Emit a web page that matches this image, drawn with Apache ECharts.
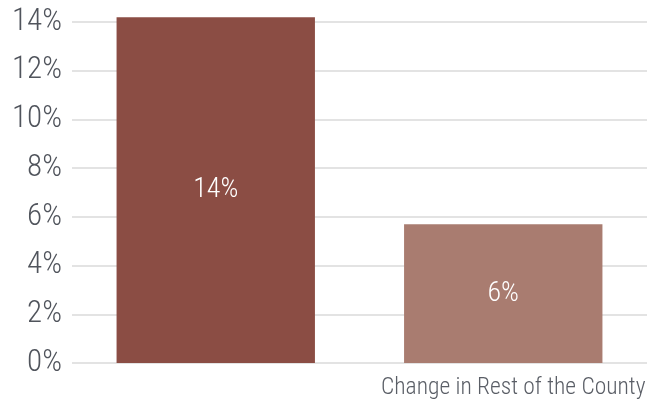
<!DOCTYPE html>
<html>
<head>
<meta charset="utf-8">
<script src="https://cdn.jsdelivr.net/npm/echarts@6/dist/echarts.min.js"></script>
<style>
html,body{margin:0;padding:0;background:#fff;}
#c{width:662px;height:403px;}
</style>
</head>
<body>
<div id="c"></div>
<script>
const categories = ['', 'Change in Rest of the County'];
const values = [14.2, 5.7];
const barColors = ['#8b4d44', '#a97c70'];
const yTicks = [0, 2, 4, 6, 8, 10, 12, 14];

const FONT = '"Roboto Condensed", "Liberation Sans", sans-serif';
const chart = echarts.init(document.getElementById('c'));
chart.setOption({
  animation: false,
  grid: { left: 72, right: 15, top: 22, bottom: 40 },
  xAxis: {
    type: 'category',
    data: categories,
    axisLine: { show: false },
    axisTick: { show: false },
    axisLabel: {
      interval: 0,
      hideOverlap: false,
      color: '#5a5e66',
      fontFamily: FONT,
      fontWeight: 300,
      fontSize: 23.5,
      margin: 13,
      padding: [0, 0, 0, 20]
    }
  },
  yAxis: {
    type: 'value',
    min: yTicks[0],
    max: yTicks[yTicks.length - 1],
    interval: 2,
    axisLine: { show: false },
    axisTick: { show: false },
    splitLine: { lineStyle: { color: '#e3e3e3', width: 2 } },
    axisLabel: {
      color: '#50545c',
      fontFamily: FONT,
      fontWeight: 300,
      fontSize: 31,
      margin: 10,
      formatter: v => v + '%'
    }
  },
  series: [{
    type: 'bar',
    clip: false,
    barWidth: '69%',
    data: values.map((v, i) => ({ value: v, itemStyle: { color: barColors[i] } })),
    label: {
      show: true,
      position: 'inside',
      color: '#ffffff',
      fontFamily: FONT,
      fontWeight: 300,
      fontSize: 28,
      formatter: p => Math.round(p.value) + '%'
    }
  }]
});
</script>
</body>
</html>
